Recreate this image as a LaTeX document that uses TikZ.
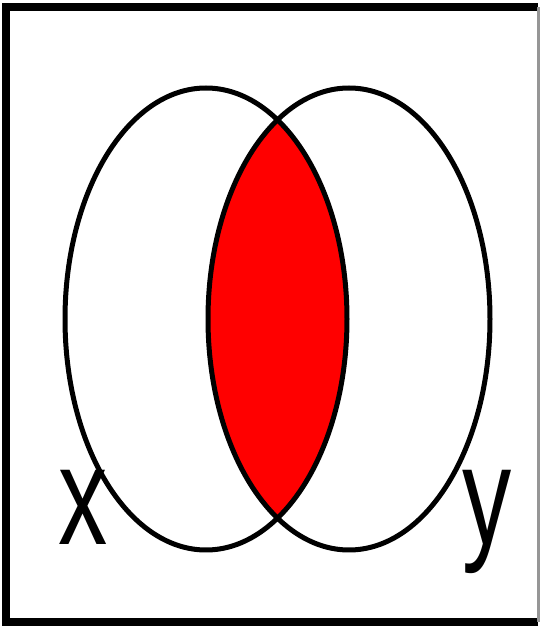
\documentclass[tikz,border=0pt]{standalone}
\usepackage{fontspec}
\usepackage{tikz}
\usepackage{xcolor}
\setmainfont{Liberation Sans}
\definecolor{setred}{RGB}{255,0,0}
\definecolor{edgegray}{RGB}{150,150,150}
\tikzset{
  frame/.style={line width=0.16cm, draw=black},
  setline/.style={line width=0.1cm, draw=black},
  setlabel/.style={anchor=base, inner sep=0pt, xscale=0.7, transform shape,
                   font=\fontsize{80}{80}\selectfont},
}

\begin{document}
\begin{tikzpicture}[x=0.02cm, y=0.02cm]
  \useasboundingbox (0,0) rectangle (540,626);
  \fill[white] (0,0) rectangle (540,626);

  % outer frame
  \draw[frame] (538,4) -- (6,4) -- (6,619) -- (538,619);
  \draw[line width=0.06cm, draw=edgegray] (538,4) -- (538,619);

  \coordinate (cx) at (206,307);
  \coordinate (cy) at (349,307);

  % shared part of x and y
  \begin{scope}
    \clip (cx) ellipse [x radius=141, y radius=231];
    \fill[setred] (cy) ellipse [x radius=141, y radius=231];
  \end{scope}

  \draw[setline] (cx) ellipse [x radius=141, y radius=231];
  \draw[setline] (cy) ellipse [x radius=141, y radius=231];

  \node[setlabel] (lx) at (83,81) {x};
  \node[setlabel] (ly) at (487,81) {y};
\end{tikzpicture}
\end{document}
